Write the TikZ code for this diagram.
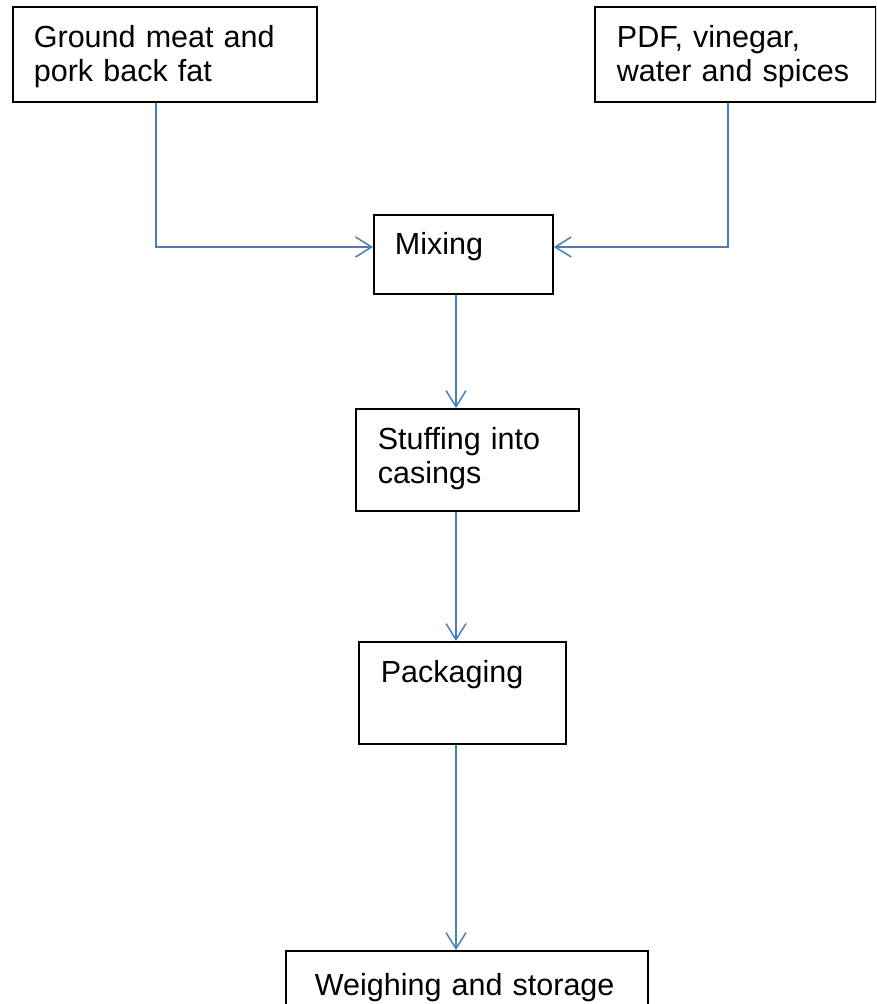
\documentclass[tikz,border=0pt]{standalone}
\usepackage{fontspec}
\setmainfont{Liberation Sans}
\usetikzlibrary{arrows.meta}
\definecolor{flowblue}{RGB}{74,126,187}
\tikzset{
  stage/.style={draw=black, line width=1.8pt, inner ysep=0pt, align=left,
    font=\fontsize{30.5}{33.5}\selectfont},
  flow/.style={draw=flowblue, line width=1.5pt,
    -{Straight Barb[length=16pt,width=20pt,line width=1.5pt]}},
  link/.style={draw=flowblue, line width=1.5pt}
}
\begin{document}
\begin{tikzpicture}[x=1pt,y=-1pt]
  \clip (0,0) rectangle (876,1004);
  \fill[white] (0,0) rectangle (876,1004);

  % raw materials
  \node[stage, anchor=north west, inner xsep=21pt, text width=262pt,
        text height=41pt, text depth=54pt] (meat) at (12,6)
        {Ground meat and\\pork back fat};
  \node[stage, anchor=north west, inner xsep=22pt, text width=237pt,
        text height=41pt, text depth=54pt] (spice) at (594,6)
        {PDF, vinegar,\\water and spices};

  % process stages
  \node[stage, anchor=north west, inner xsep=21pt, text width=137pt,
        text height=40pt, text depth=39pt] (mix) at (373,214) {Mixing};
  \node[stage, anchor=north west, inner xsep=22pt, text width=179pt,
        text height=41pt, text depth=61pt] (stuff) at (355,408)
        {Stuffing into\\casings};
  \node[stage, anchor=north west, inner xsep=22pt, text width=163pt,
        text height=41pt, text depth=61pt] (pack) at (358,641) {Packaging};
  \node[stage, anchor=north west, inner xsep=29pt, text width=304pt,
        text height=45pt, text depth=60pt] (weigh) at (285,950)
        {Weighing and storage};

  % connector guide positions
  \coordinate (lx) at (156,247);
  \coordinate (rx) at (728,247);
  \coordinate (spine) at (456,0);

  \draw[flow] (meat.south -| lx) |- (mix.west |- lx);
  \draw[flow] (spice.south -| rx) |- (mix.east |- rx);
  \draw[flow] (mix.south -| spine) -- (stuff.north -| spine);
  \draw[flow] (stuff.south -| spine) -- (pack.north -| spine);
  \draw[flow] (pack.south -| spine) -- (weigh.north -| spine);
\end{tikzpicture}
\end{document}
